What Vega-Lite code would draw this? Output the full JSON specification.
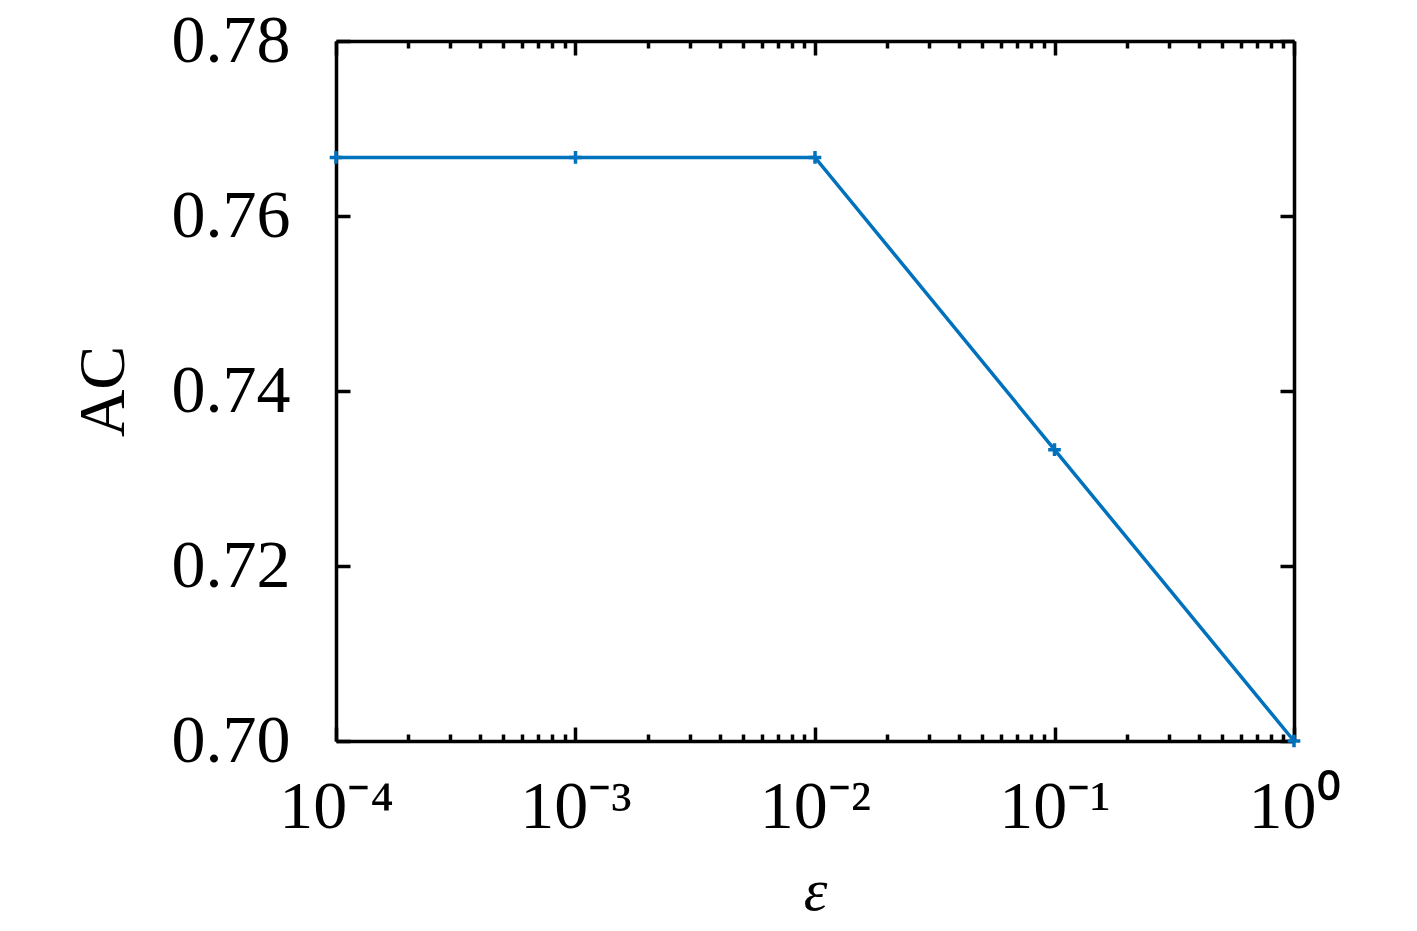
{
  "$schema": "https://vega.github.io/schema/vega-lite/v6.json",
  "autosize": "none",
  "padding": {"left": 336, "top": 41, "right": 123, "bottom": 190},
  "width": 958,
  "height": 700,
  "background": "white",
  "config": {
    "view": {"stroke": null},
    "axis": {
      "grid": false,
      "domainColor": "black",
      "domainWidth": 3.5,
      "tickColor": "black",
      "tickWidth": 3.5,
      "labelFont": "Liberation Serif",
      "labelFontSize": 68,
      "labelColor": "black",
      "titleFont": "Liberation Serif",
      "titleColor": "black",
      "titleFontWeight": "normal"
    }
  },
  "data": {
    "values": [
      {"eps": 0.0001, "ac": 0.7667},
      {"eps": 0.001, "ac": 0.7667},
      {"eps": 0.01, "ac": 0.7667},
      {"eps": 0.1, "ac": 0.7333},
      {"eps": 1, "ac": 0.7}
    ]
  },
  "layer": [
    {
      "mark": {
        "type": "line",
        "color": "#0072BD",
        "strokeWidth": 3.5,
        "point": {"shape": "M-1,0L1,0M0,-1L0,1", "size": 160, "filled": false, "strokeWidth": 3.5, "color": "#0072BD"}
      },
      "encoding": {
        "x": {
          "field": "eps",
          "type": "quantitative",
          "scale": {"type": "log", "domain": [0.0001, 1], "nice": false},
          "axis": {
            "orient": "bottom",
            "values": [0.0001, 0.0002, 0.0003, 0.0004, 0.0005, 0.0006, 0.0007, 0.0008, 0.0009, 0.001, 0.002, 0.003, 0.004, 0.005, 0.006, 0.007, 0.008, 0.009, 0.01, 0.02, 0.03, 0.04, 0.05, 0.06, 0.07, 0.08, 0.09, 0.1, 0.2, 0.3, 0.4, 0.5, 0.6, 0.7, 0.8, 0.9, 1],
            "labelExpr": "datum.value == 0.0001 ? '10⁻⁴' : datum.value == 0.001 ? '10⁻³' : datum.value == 0.01 ? '10⁻²' : datum.value == 0.1 ? '10⁻¹' : datum.value == 1 ? '10⁰' : ''",
            "labelOverlap": false,
            "labelFlush": false,
            "labelPadding": 46,
            "tickSize": {"condition": {"test": "abs(log(datum.value)/LN10 - round(log(datum.value)/LN10)) < 0.000001", "value": -14}, "value": -7},
            "title": "ε",
            "titleFontSize": 60,
            "titleFontStyle": "italic",
            "titlePadding": 14
          }
        },
        "y": {
          "field": "ac",
          "type": "quantitative",
          "scale": {"domain": [0.7, 0.78], "nice": false, "zero": false},
          "axis": {
            "orient": "left",
            "values": [0.7, 0.72, 0.74, 0.76, 0.78],
            "format": ".2f",
            "tickSize": -14,
            "labelPadding": 60,
            "title": "AC",
            "titleFontSize": 66,
            "titlePadding": 34
          }
        }
      }
    },
    {
      "mark": {"type": "point", "opacity": 0},
      "encoding": {
        "x": {
          "field": "eps",
          "type": "quantitative",
          "scale": {"type": "log", "domain": [0.0001, 1], "nice": false},
          "axis": {
            "orient": "top",
            "values": [0.0001, 0.0002, 0.0003, 0.0004, 0.0005, 0.0006, 0.0007, 0.0008, 0.0009, 0.001, 0.002, 0.003, 0.004, 0.005, 0.006, 0.007, 0.008, 0.009, 0.01, 0.02, 0.03, 0.04, 0.05, 0.06, 0.07, 0.08, 0.09, 0.1, 0.2, 0.3, 0.4, 0.5, 0.6, 0.7, 0.8, 0.9, 1],
            "labels": false,
            "tickSize": {"condition": {"test": "abs(log(datum.value)/LN10 - round(log(datum.value)/LN10)) < 0.000001", "value": -14}, "value": -7},
            "title": null
          }
        },
        "y": {
          "field": "ac",
          "type": "quantitative",
          "scale": {"domain": [0.7, 0.78], "nice": false, "zero": false},
          "axis": {
            "orient": "right",
            "values": [0.7, 0.72, 0.74, 0.76, 0.78],
            "labels": false,
            "tickSize": -14,
            "title": null
          }
        }
      }
    }
  ],
  "resolve": {
    "scale": {"x": "independent", "y": "independent"},
    "axis": {"x": "independent", "y": "independent"}
  }
}
